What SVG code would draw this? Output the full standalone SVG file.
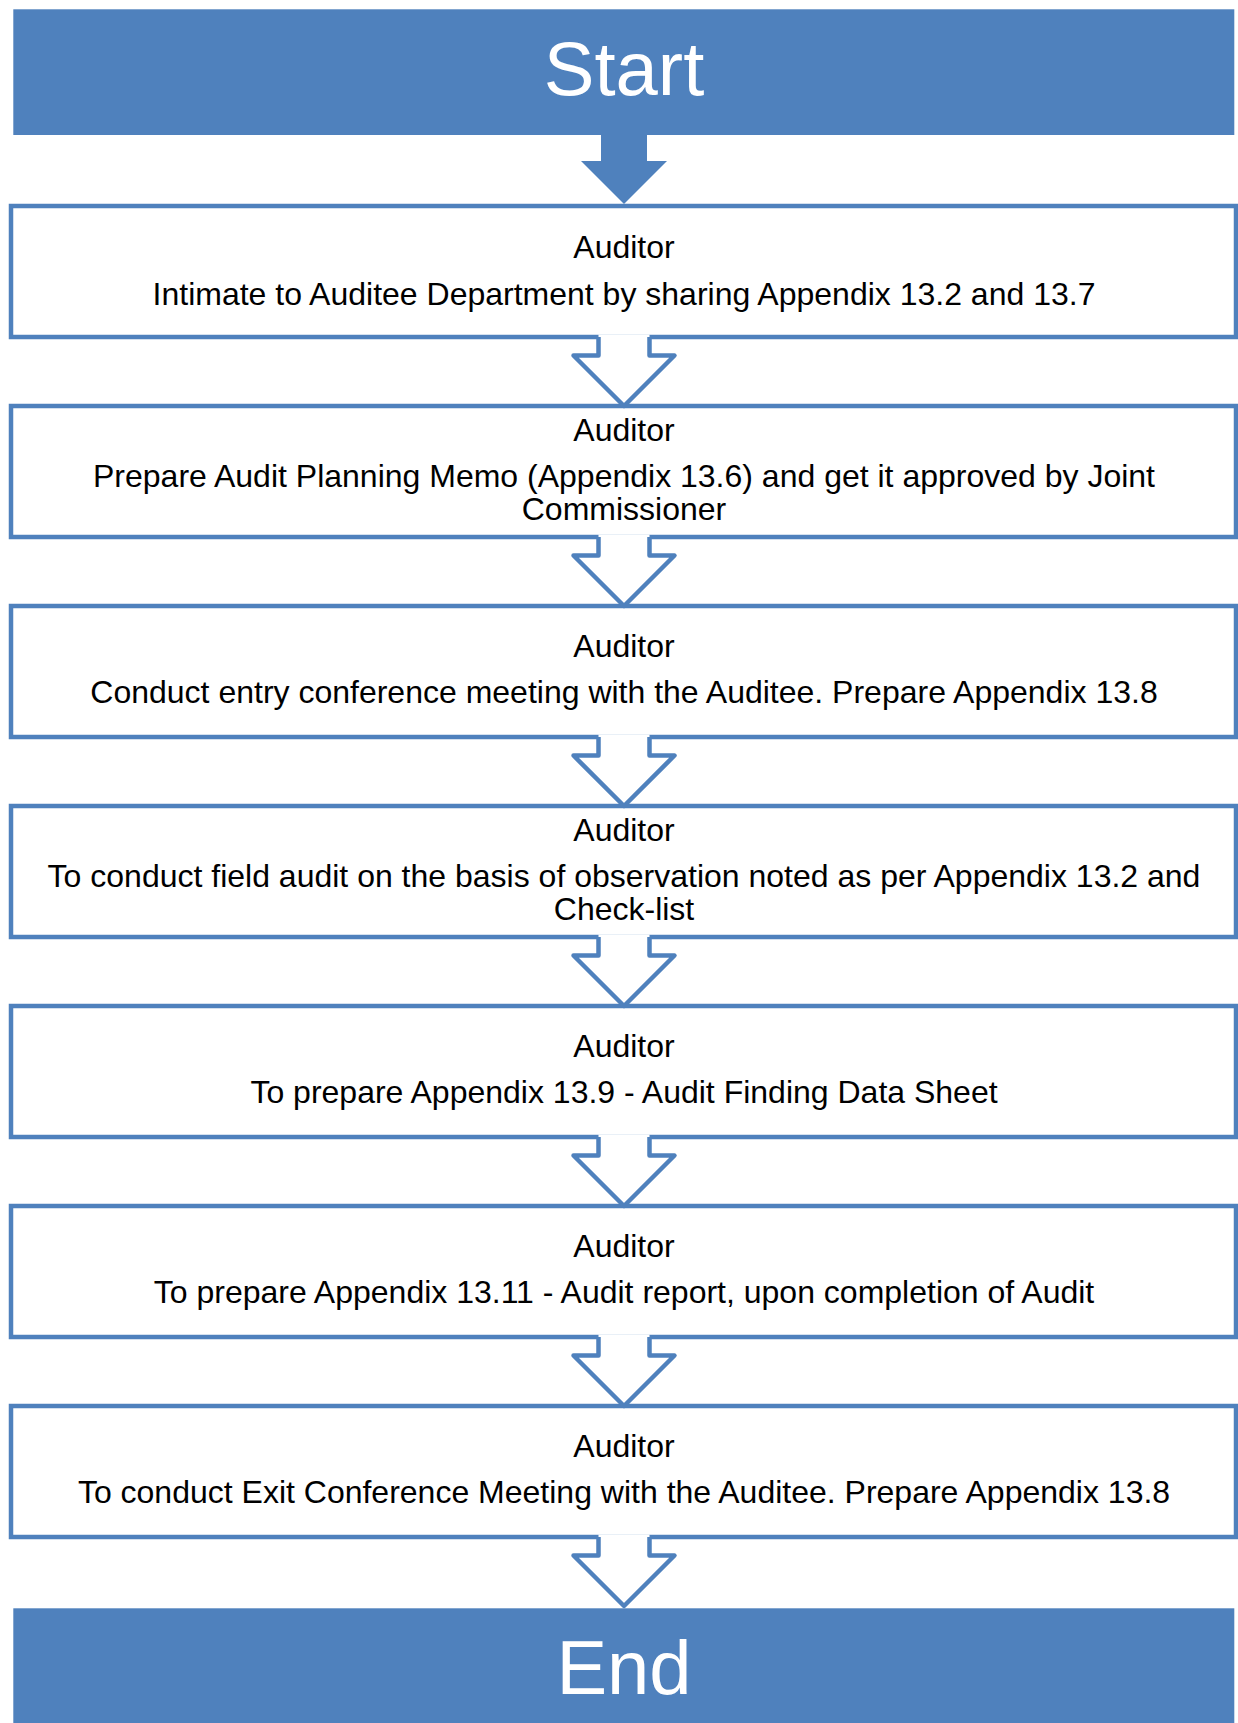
<svg xmlns="http://www.w3.org/2000/svg" width="1238" height="1723" viewBox="0 0 1238 1723">
<style>
.term{fill:#4F81BD;}
.termtxt{font-family:"Liberation Sans",Arial,sans-serif;font-size:76px;fill:#FFFFFF;text-anchor:middle;}
.box{fill:#FFFFFF;stroke:#4F81BD;stroke-width:4.5;}
.txt{font-family:"Liberation Sans",Arial,sans-serif;font-size:32px;fill:#000000;text-anchor:middle;}
.arrFill{fill:#FFFFFF;stroke:none;}
.arrLine{fill:none;stroke:#4F81BD;stroke-width:4.5;stroke-linejoin:round;}
</style>
<rect width="1238" height="1723" fill="#FFFFFF"/>
<g id="start">
<rect class="term" x="13.3" y="9.3" width="1221" height="125.7"/>
<text class="termtxt" x="624" y="95">Start</text>
</g>
<g id="step1">
<rect class="box" x="11" y="206" width="1225" height="131"/>
<text class="txt" x="624" y="258">Auditor</text>
<text class="txt" x="624" y="305">Intimate to Auditee Department by sharing Appendix 13.2 and 13.7</text>
</g>
<g id="step2">
<rect class="box" x="11" y="406" width="1225" height="131"/>
<text class="txt" x="624" y="441">Auditor</text>
<text class="txt" x="624" y="487">Prepare Audit Planning Memo (Appendix 13.6) and get it approved by Joint</text>
<text class="txt" x="624" y="520">Commissioner</text>
</g>
<g id="step3">
<rect class="box" x="11" y="606" width="1225" height="131"/>
<text class="txt" x="624" y="657">Auditor</text>
<text class="txt" x="624" y="703">Conduct entry conference meeting with the Auditee. Prepare Appendix 13.8</text>
</g>
<g id="step4">
<rect class="box" x="11" y="806" width="1225" height="131"/>
<text class="txt" x="624" y="841">Auditor</text>
<text class="txt" x="624" y="887">To conduct field audit on the basis of observation noted as per Appendix 13.2 and</text>
<text class="txt" x="624" y="920">Check-list</text>
</g>
<g id="step5">
<rect class="box" x="11" y="1006" width="1225" height="131"/>
<text class="txt" x="624" y="1057">Auditor</text>
<text class="txt" x="624" y="1103">To prepare Appendix 13.9 - Audit Finding Data Sheet</text>
</g>
<g id="step6">
<rect class="box" x="11" y="1206" width="1225" height="131"/>
<text class="txt" x="624" y="1257">Auditor</text>
<text class="txt" x="624" y="1303">To prepare Appendix 13.11 - Audit report, upon completion of Audit</text>
</g>
<g id="step7">
<rect class="box" x="11" y="1406" width="1225" height="131"/>
<text class="txt" x="624" y="1457">Auditor</text>
<text class="txt" x="624" y="1503">To conduct Exit Conference Meeting with the Auditee. Prepare Appendix 13.8</text>
</g>
<g id="end">
<rect class="term" x="13.3" y="1608.3" width="1221" height="114.7"/>
<text class="termtxt" x="624" y="1694">End</text>
</g>
<g id="connectors">
<polygon class="term" points="601,135 647,135 647,161 667,161 624,204 581,161 601,161"/>
<g id="a1" transform="translate(0,337)">
<polygon class="arrFill" points="598.5,-2.5 649.5,-2.5 649.5,18.5 674.5,18.5 624,69 573.5,18.5 598.5,18.5"/>
<polyline class="arrLine" points="598.5,0 598.5,18.5 573.5,18.5 624,69 674.5,18.5 649.5,18.5 649.5,0"/>
</g>
<g id="a2" transform="translate(0,537)">
<polygon class="arrFill" points="598.5,-2.5 649.5,-2.5 649.5,18.5 674.5,18.5 624,69 573.5,18.5 598.5,18.5"/>
<polyline class="arrLine" points="598.5,0 598.5,18.5 573.5,18.5 624,69 674.5,18.5 649.5,18.5 649.5,0"/>
</g>
<g id="a3" transform="translate(0,737)">
<polygon class="arrFill" points="598.5,-2.5 649.5,-2.5 649.5,18.5 674.5,18.5 624,69 573.5,18.5 598.5,18.5"/>
<polyline class="arrLine" points="598.5,0 598.5,18.5 573.5,18.5 624,69 674.5,18.5 649.5,18.5 649.5,0"/>
</g>
<g id="a4" transform="translate(0,937)">
<polygon class="arrFill" points="598.5,-2.5 649.5,-2.5 649.5,18.5 674.5,18.5 624,69 573.5,18.5 598.5,18.5"/>
<polyline class="arrLine" points="598.5,0 598.5,18.5 573.5,18.5 624,69 674.5,18.5 649.5,18.5 649.5,0"/>
</g>
<g id="a5" transform="translate(0,1137)">
<polygon class="arrFill" points="598.5,-2.5 649.5,-2.5 649.5,18.5 674.5,18.5 624,69 573.5,18.5 598.5,18.5"/>
<polyline class="arrLine" points="598.5,0 598.5,18.5 573.5,18.5 624,69 674.5,18.5 649.5,18.5 649.5,0"/>
</g>
<g id="a6" transform="translate(0,1337)">
<polygon class="arrFill" points="598.5,-2.5 649.5,-2.5 649.5,18.5 674.5,18.5 624,69 573.5,18.5 598.5,18.5"/>
<polyline class="arrLine" points="598.5,0 598.5,18.5 573.5,18.5 624,69 674.5,18.5 649.5,18.5 649.5,0"/>
</g>
<g id="a7" transform="translate(0,1537)">
<polygon class="arrFill" points="598.5,-2.5 649.5,-2.5 649.5,18.5 674.5,18.5 624,69 573.5,18.5 598.5,18.5"/>
<polyline class="arrLine" points="598.5,0 598.5,18.5 573.5,18.5 624,69 674.5,18.5 649.5,18.5 649.5,0"/>
</g>
</g>
</svg>
